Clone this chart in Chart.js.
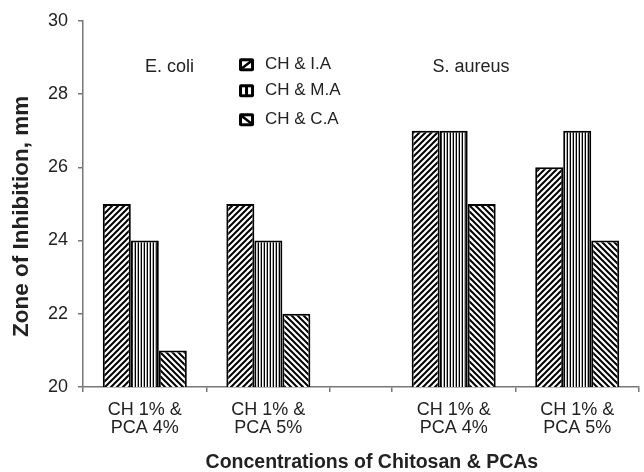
<!DOCTYPE html>
<html>
<head>
<meta charset="utf-8">
<script src="https://cdn.jsdelivr.net/npm/chart.js@4.4.1/dist/chart.umd.min.js"></script>
<style>
  html, body { margin: 0; padding: 0; background: #fff; }
  #wrap { width: 644px; height: 472px; }
</style>
</head>
<body>
<div id="wrap"><canvas id="zoneChart"></canvas></div>
<script>
const fontFamily = "'Liberation Sans', Arial, sans-serif";
const textColor = '#222';
const axisColor = '#777';

// group labels and where each group sits on the x axis (in category units)
const groupLabels = [['CH 1% &', 'PCA 4%'], ['CH 1% &', 'PCA 5%'], ['CH 1% &', 'PCA 4%'], ['CH 1% &', 'PCA 5%']];
const groupX = [0.5, 1.5, 3.0, 4.0];
const boundaryX = [0, 1, 2, 2.5, 3.5, 4.5];

const seriesNames = ['CH & I.A', 'CH & M.A', 'CH & C.A'];
const iaValues = [25, 25, 27, 26];
const maValues = [24, 24, 27, 27];
const caValues = [21, 22, 25, 24];

const yTicks = [20, 22, 24, 26, 28, 30];

const organisms = [
  { text: 'E. coli', x: 0.70, y: 28.75 },
  { text: 'S. aureus', x: 3.14, y: 28.75 },
];

function makePattern(kind) {
  const c = document.createElement('canvas');
  const ctx = c.getContext('2d');
  if (kind === 'vert') {
    c.width = 3; c.height = 4;
    ctx.fillStyle = '#fff';
    ctx.fillRect(0, 0, 3, 4);
    ctx.fillStyle = '#000';
    ctx.fillRect(0, 0, 1, 4);
    ctx.fillStyle = '#aaa';
    ctx.fillRect(2, 0, 1, 4);
  } else {
    const s = 6;
    c.width = s; c.height = s;
    ctx.fillStyle = '#fff';
    ctx.fillRect(0, 0, s, s);
    ctx.strokeStyle = '#000';
    ctx.lineWidth = 2;
    ctx.beginPath();
    if (kind === 'fwd') {
      ctx.moveTo(0, s); ctx.lineTo(s, 0);
      ctx.moveTo(-1, 1); ctx.lineTo(1, -1);
      ctx.moveTo(s - 1, s + 1); ctx.lineTo(s + 1, s - 1);
    } else {
      ctx.moveTo(0, 0); ctx.lineTo(s, s);
      ctx.moveTo(-1, s - 1); ctx.lineTo(1, s + 1);
      ctx.moveTo(s - 1, -1); ctx.lineTo(s + 1, 1);
    }
    ctx.stroke();
  }
  return ctx.createPattern(c, 'repeat');
}

function makeBars(label, values, kind) {
  return {
    label,
    kind,
    xAxisID: 'x',
    yAxisID: 'y',
    data: values.map((v, i) => ({ x: groupX[i], y: v })),
    backgroundColor: makePattern(kind),
    borderColor: '#000',
    borderWidth: 2,
    borderSkipped: false,
    categoryPercentage: 0.68,
    barPercentage: 1.0,
  };
}

// legend drawn inside the plot, with little hatch icons
const insideLegend = {
  id: 'insideLegend',
  afterDraw(chart) {
    const ctx = chart.ctx;
    const area = chart.chartArea;
    const x0 = area.left + 156;
    const rows = [area.top + 44, area.top + 70, area.top + 99];
    ctx.save();
    ctx.font = '17px ' + fontFamily;
    ctx.textBaseline = 'middle';
    chart.data.datasets.forEach((ds, i) => {
      const cy = rows[i];
      const w = 15, h = 13;
      const x = x0, y = cy - h / 2;
      ctx.fillStyle = '#000';
      ctx.beginPath();
      ctx.roundRect(x, y, w, h, 2);
      ctx.fill();
      ctx.fillStyle = '#fff';
      if (ds.kind === 'vert') {
        ctx.fillRect(x + 3, y + 3, 3, h - 6);
        ctx.fillRect(x + w - 6, y + 3, 3, h - 6);
      } else {
        ctx.fillRect(x + 3, y + 3, w - 6, h - 6);
        ctx.strokeStyle = '#000';
        ctx.lineWidth = 2.5;
        ctx.beginPath();
        if (ds.kind === 'fwd') {
          ctx.moveTo(x + 3, y + h - 3); ctx.lineTo(x + w - 3, y + 3);
        } else {
          ctx.moveTo(x + 3, y + 3); ctx.lineTo(x + w - 3, y + h - 3);
        }
        ctx.stroke();
      }
      ctx.fillStyle = textColor;
      ctx.fillText(ds.label, x + 26, cy);
    });

    ctx.font = '18px ' + fontFamily;
    ctx.textAlign = 'center';
    const xs = chart.scales.x, ys = chart.scales.y;
    organisms.forEach(o => {
      ctx.fillText(o.text, xs.getPixelForValue(o.x), ys.getPixelForValue(o.y));
    });
    ctx.restore();
  },
};

new Chart(document.getElementById('zoneChart'), {
  type: 'bar',
  data: {
    datasets: [
      makeBars(seriesNames[0], iaValues, 'fwd'),
      makeBars(seriesNames[1], maValues, 'vert'),
      makeBars(seriesNames[2], caValues, 'back'),
    ],
  },
  plugins: [insideLegend],
  options: {
    responsive: true,
    maintainAspectRatio: false,
    animation: false,
    layout: { padding: { top: 3, right: 5, left: 11, bottom: 0 } },
    plugins: {
      legend: { display: false },
      tooltip: { enabled: false },
    },
    scales: {
      x: {
        type: 'linear',
        position: 'bottom',
        weight: 1,
        offset: false,
        min: 0,
        max: 4.5,
        afterBuildTicks: axis => { axis.ticks = groupX.map(v => ({ value: v })); },
        ticks: {
          color: textColor,
          font: { family: fontFamily, size: 18, lineHeight: 1.0 },
          padding: 9,
          maxRotation: 0,
          autoSkip: false,
          callback: (v, i) => groupLabels[i],
        },
        grid: { display: false, drawTicks: false, offset: false },
        border: { display: false },
        title: {
          display: true,
          // leading spaces nudge the title a little right of the axis centre, as in the source
          text: '    Concentrations of Chitosan & PCAs',
          color: textColor,
          font: { family: fontFamily, size: 19.5, weight: 'bold', lineHeight: 1.0 },
          padding: { top: 6.5, bottom: 0 },
        },
      },
      xt: {
        type: 'linear',
        position: 'bottom',
        weight: 0,
        offset: false,
        min: 0,
        max: 4.5,
        afterBuildTicks: axis => { axis.ticks = boundaryX.map(v => ({ value: v })); },
        ticks: { display: false },
        grid: { offset: false, drawOnChartArea: false, drawTicks: true, tickLength: 5, color: axisColor, lineWidth: 1.5 },
        border: { display: true, color: axisColor, width: 1.5 },
      },
      y: {
        min: 20,
        max: 30,
        afterBuildTicks: axis => { axis.ticks = yTicks.map(v => ({ value: v })); },
        ticks: {
          color: textColor,
          font: { family: fontFamily, size: 18 },
          padding: 10,
        },
        grid: { drawOnChartArea: false, drawTicks: true, tickLength: 5, color: axisColor, lineWidth: 1.5 },
        border: { display: true, color: axisColor, width: 1.5 },
        title: {
          display: true,
          // trailing spaces push the rotated title slightly down, as in the source
          text: 'Zone of Inhibition, mm    ',
          color: textColor,
          font: { family: fontFamily, size: 22.5, weight: 'bold', lineHeight: 1.0 },
          padding: { top: 0, bottom: 4.5 },
        },
      },
    },
  },
});
</script>
</body>
</html>
